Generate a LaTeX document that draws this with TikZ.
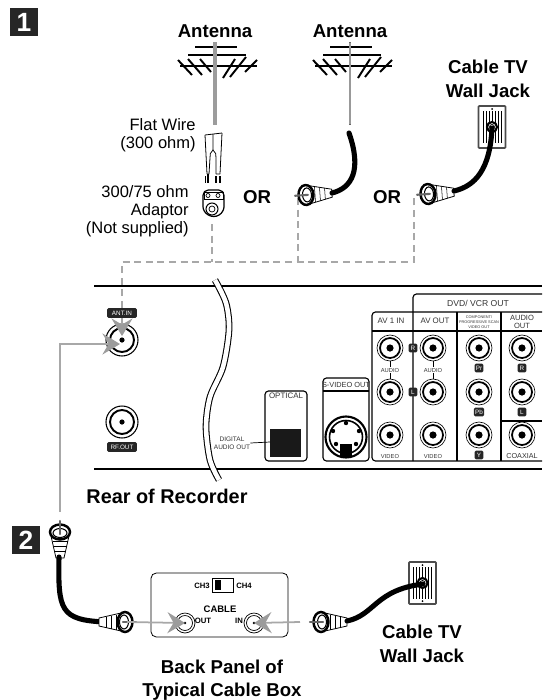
\documentclass[tikz,border=0pt]{standalone}
\usepackage{fontspec}
\setmainfont{Liberation Sans}
\usetikzlibrary{arrows.meta}
\definecolor{wiregray}{HTML}{A8A8A8}
\definecolor{headgray}{HTML}{9C9C9C}
\tikzset{
    boldtext/.style={inner sep=0,align=center,font=\fontsize{10.6}{13.4}\selectfont\bfseries},
    plaintext/.style={inner sep=0,align=right,font=\fontsize{9.4}{10.2}\selectfont},
    paneltext/.style={inner sep=0,align=center,text=black!80,font=\fontsize{4.5}{5.2}\selectfont},
    boxtext/.style={inner sep=0,align=center,font=\fontsize{4.4}{5}\selectfont\bfseries},
    tagbox/.style={fill=black!85,text=white,rounded corners=.8pt,inner sep=.7pt,font=\fontsize{3.6}{4}\selectfont},
    stepnum/.style={fill=black!85,text=white,minimum size=15.5pt,inner sep=0,font=\fontsize{15}{15}\selectfont\bfseries},
    panelline/.style={line width=.65pt},
    dashwire/.style={wiregray,line width=.9pt,dash pattern=on 4pt off 2.6pt},
    grayarrow/.style={wiregray,line width=1pt,-{Stealth[length=10pt,width=12pt,inset=3.5pt,color=headgray]}},
    coax/.style={line width=2.9pt,line cap=round},
    antenna/.pic={
        \draw[line width=.9pt] (-20,5)--(22,5) (-27,13)--(31,13) (-35,24)--(42,24);
        \draw[line width=1.1pt] (-37,18)--(-23,33) (-27,17)--(-13,33) (-15,17)--(-4,30);
        \draw[line width=1.1pt] (8,36)--(20,17) (15,35)--(31,15) (30,30)--(42,18);
    },
    rcajack/.pic={
        \draw[line width=.35pt,fill=white] (0,0) circle (13);
        \draw[line width=1pt] (0,0) circle (10);
        \fill (0,0) circle (3.6);
    },
    antjack/.pic={
        \draw[line width=.6pt,fill=white] (0,0) circle (16);
        \draw[line width=1.1pt] (0,0) circle (12);
        \fill (0,0) circle (2.6);
    },
    coaxjack/.pic={
        \draw[line width=.4pt,fill=white] (0,0) circle (10);
        \draw[line width=.4pt] (0,0) circle (7.5);
        \fill (0,0) circle (1.4);
    },
    plugend/.pic={
        \draw[line width=.45pt,fill=white] (4,-9)--(26,-4)--(26,4)--(4,9)--cycle;
        \draw[line width=.3pt] (9,-7.5)--(9,7.5) (14,-6.5)--(14,6.5) (19,-5.5)--(19,5.5);
        \draw[line width=1.4pt,fill=white] (0,0) ellipse (7.5 and 10);
        \draw[line width=.6pt] (1,0) ellipse (4.5 and 7);
        \draw[black!60,line width=1.2pt,line cap=round] (-11,0)--(2,0);
    },
    walljack/.pic={
        \draw[black!70,line width=1pt,fill=white,rounded corners=.5pt] (-13.5,-21)rectangle(13.5,21);
        \foreach \lx in {-9,-6,-3,0,3,6,9}
            \draw[line width=.3pt] (\lx,-16)--(\lx,16);
        \fill (0,-18) circle (1) (0,18) circle (1);
        \draw[line width=1.2pt,fill=white] (0,0) circle (5);
        \draw[line width=.4pt] (0,0) circle (2.5);
    },
}
\begin{document}
\begin{tikzpicture}[x=0.02cm,y=-0.02cm]
    \useasboundingbox (0,0) rectangle (542,700);
    \node[stepnum] (one) at (24,22) {1};
    \node[stepnum] (two) at (26,540) {2};

    \node[boldtext] (antA) at (215,31) {Antenna};
    \node[boldtext] (antB) at (350,31) {Antenna};
    \node[boldtext] (jackA) at (488,79) {Cable TV\\Wall Jack};
    \node[boldtext] (orA) at (257,197) {OR};
    \node[boldtext] (orB) at (387,197) {OR};
    \node[plaintext,anchor=east] (flat) at (196,135) {Flat Wire\\(300 ohm)};
    \node[plaintext,anchor=east] (adapt) at (189,211) {300/75 ohm\\Adaptor\\(Not supplied)};

    \pic at (215,42) {antenna};
    \pic at (350,42) {antenna};
    \draw[headgray,line width=1.8pt] (215,42)--(215,125);
    \draw[black!60,line width=1.7pt] (350,42)--(350,125);
    \draw[white!60!black,line width=.6pt] (350,43)--(350,124);

    \draw[line width=.45pt] (205,135)--(207,174) (222,133)--(220,174) (213,134)--(213,150);
    \draw[line width=.45pt] (209,174)--(210,158) to[bend left=30] (213,150) to[bend left=30] (216,158)--(216,174);
    \draw[line width=.45pt] (205,135)--(222,133) (207,174)--(209,174) (216,174)--(220,174);
    \draw[line width=.8pt] (208,174)--(208,183) (205.5,176)--(205.5,183) (216,176)--(216,183) (220,176)--(220,183);
    \draw[line width=.7pt,fill=white,rounded corners=3pt] (203,190)--(224,190)--(224,212)--(214,218)--(203,212)--cycle;
    \draw[line width=.5pt] (204,192) rectangle (223,199);
    \draw[line width=.4pt] (208,195.5) circle (2) (218,195.5) circle (2);
    \draw[line width=.6pt] (212,209) circle (6);
    \draw[line width=.4pt] (212,209) circle (3);

    \coordinate (tipA) at (212,224);
    \coordinate (tipB) at (298,198);
    \coordinate (tipC) at (414,195);
    \coordinate (busr) at (414,262);
    \node[tagbox,minimum width=17pt,minimum height=5.6pt] (antin) at (122,313) {ANT.IN};
    \draw[dashwire] (antin.north) |- (busr)--(tipC);
    \draw[dashwire] (tipA)--(tipA |- busr);
    \draw[dashwire] (tipB)--(tipB |- busr);

    \pic[rotate=4] at (306,195) {plugend};
    \draw[coax] (332,193) .. controls (352,188) and (362,170) .. (349,133);
    \pic[rotate=4] at (428,194) {plugend};
    \pic at (492,127) {walljack};
    \draw[coax] (454,191) .. controls (475,186) and (490,170) .. (492,128);

    \draw[panelline] (94,286)--(542,286) (94,469)--(542,469);
    \draw[line width=.6pt,double,double distance=2.6pt] plot[smooth] coordinates {(215,280) (226,303) (229,330) (223,367) (210,397) (206,427) (210,460) (219,480)};

    \coordinate (injack) at (122,340);
    \pic at (injack) {antjack};
    \pic at (122,422) {antjack};
    \node[tagbox,minimum width=17pt,minimum height=5.6pt] (rfout) at (122,447) {RF.OUT};

    \draw[panelline,rounded corners=2pt,fill=white] (265,391) rectangle (307,461);
    \fill[black!90] (270,429) rectangle (301,457);
    \node[paneltext] (optical) at (286,396) {OPTICAL};
    \node[paneltext,font=\fontsize{3.7}{4.4}\selectfont] (digital) at (232,443) {DIGITAL\\AUDIO OUT};
    \draw[line width=.4pt] (digital.east)--(270,442);

    \draw[panelline,rounded corners=2pt] (323,378) rectangle (369,461);
    \draw[panelline] (323,391)--(369,391);
    \node[paneltext,font=\fontsize{4.2}{5}\selectfont] (svideo) at (346,385) {S-VIDEO OUT};
    \draw[line width=1.2pt] (346,437) circle (20.5);
    \draw[line width=.9pt] (346,437) circle (16.5);
    \foreach \px/\py in {346/423,333/431,359/431,336/444,356/444}
        \fill (\px,\py) circle (2.2);
    \fill (340,444) rectangle (352,457);

    \draw[panelline,rounded corners=2pt] (413,461)--(413,294)--(542,294);
    \draw[panelline,rounded corners=2pt] (542,461)--(372,461)--(372,312)--(542,312);
    \draw[panelline] (372,331)--(542,331) (457,312)--(457,461) (501,312)--(501,461) (501,421)--(542,421);
    \node[paneltext,font=\fontsize{4.9}{5.6}\selectfont] (dvdvcr) at (478,303) {DVD/ VCR OUT};
    \node[paneltext] (avin) at (391,321) {AV 1 IN};
    \node[paneltext] (avout) at (435,321) {AV OUT};
    \node[paneltext,font=\fontsize{2.2}{2.8}\selectfont] (compo) at (479,322) {COMPONENT/\\PROGRESSIVE SCAN\\VIDEO OUT};
    \node[paneltext,font=\fontsize{4.3}{4.8}\selectfont] (audioout) at (522,322) {AUDIO\\OUT};

    \foreach \jx in {390,433,479,522}
        \foreach \jy in {348,392,435}
            \pic at (\jx,\jy) {rcajack};
    \draw[line width=.4pt] (390,361)--(390,379) (433,361)--(433,379);
    \foreach \ax in {390,433}
        \node[paneltext,fill=white,inner sep=.5pt,font=\fontsize{3.3}{4}\selectfont] at (\ax,370) {AUDIO};
    \foreach \ax in {390,433}
        \node[paneltext,font=\fontsize{3.3}{4}\selectfont] at (\ax,456) {VIDEO};
    \node[paneltext,font=\fontsize{4.1}{5}\selectfont] (coaxial) at (522,456) {COAXIAL};
    \node[tagbox,minimum size=5pt] (tagR) at (413,348) {R};
    \node[tagbox,minimum size=5pt] (tagL) at (413,392) {L};
    \node[tagbox,minimum size=5pt] (tagPr) at (479,368) {Pr};
    \node[tagbox,minimum size=5pt] (tagPb) at (479,412) {Pb};
    \node[tagbox,minimum size=5pt] (tagY) at (479,455) {Y};
    \node[tagbox,minimum size=5pt] (tagRb) at (522,368) {R};
    \node[tagbox,minimum size=5pt] (tagLb) at (522,412) {L};

    \node[boldtext,font=\fontsize{11.3}{13.4}\selectfont\bfseries] (rear) at (167,496) {Rear of Recorder};

    \draw[grayarrow] (antin.south)--(122,336);
    \coordinate (tipD) at (60,512);
    \draw[grayarrow] (tipD)|-(120,344);

    \pic[rotate=-90] at (60,532) {plugend};
    \draw[coax] (59,557) .. controls (58,610) and (60,620) .. (105,622);

    \draw[line width=.45pt,rounded corners=3pt] (151,573) rectangle (288,637);
    \node[boxtext] (chthree) at (202,586) {CH3};
    \draw[line width=.5pt] (212,578) rectangle (233,592);
    \fill (215,580) rectangle (221,590);
    \node[boxtext] (chfour) at (244,586) {CH4};
    \node[boxtext,font=\fontsize{5.4}{6}\selectfont\bfseries] (cable) at (220,609) {CABLE};
    \node[boxtext] (outlabel) at (203,621) {OUT};
    \node[boxtext] (inlabel) at (239,621) {IN};
    \coordinate (boxout) at (185,623);
    \coordinate (boxin) at (254,623);
    \pic at (boxout) {coaxjack};
    \pic at (boxin) {coaxjack};

    \pic[rotate=180] at (125,622) {plugend};
    \pic at (321,622) {plugend};
    \coordinate (tipE) at (127,622);
    \coordinate (tipF) at (300,622);
    \draw[grayarrow] (tipE)--(boxout);
    \draw[grayarrow] (tipF)--(boxin);

    \pic at (422.5,583) {walljack};
    \draw[coax] (347,621) .. controls (375,615) and (375,590) .. (423,584);
    \node[boldtext] (jackB) at (422,644) {Cable TV\\Wall Jack};
    \node[boldtext] (backpanel) at (222,680) {Back Panel of\\Typical Cable Box};
\end{tikzpicture}
\end{document}
